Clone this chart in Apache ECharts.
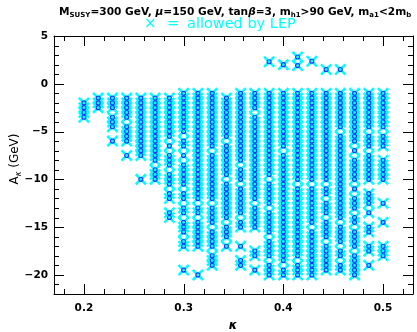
<!DOCTYPE html>
<html>
<head>
<meta charset="utf-8">
<script src="https://cdn.jsdelivr.net/npm/echarts@6/dist/echarts.min.js"></script>
<style>
html,body{margin:0;padding:0;background:#fff}
#main{width:417px;height:332px}
</style>
</head>
<body>
<div id="main"></div>
<script>
// kappa scan columns (0.2 .. 0.5, 22 steps)
var kappa = [0.2, 0.2143, 0.2286, 0.2429, 0.2571, 0.2714, 0.2857, 0.3, 0.3143, 0.3286, 0.3429,
  0.3571, 0.3714, 0.3857, 0.4, 0.4143, 0.4286, 0.4429, 0.4571, 0.4714, 0.4857, 0.5];

// A_kappa values (GeV) of the allowed points, one list per kappa column
var aKappa = [
  [-2,-2.5,-3,-3.5],
  [-1.5,-2,-2.5],
  [-1.5,-2,-2.5,-3.5,-4,-4.5,-6],
  [-1.5,-2,-2.5,-3,-3.5,-4.5,-5,-5.5,-6,-7.5],
  [-1.5,-2,-2.5,-3,-3.5,-4,-4.5,-5,-5.5,-6,-6.5,-7,-7.5,-10],
  [-1.5,-2,-2.5,-3,-3.5,-4,-4.5,-5,-5.5,-6,-6.5,-7,-7.5,-8,-9,-9.5,-10],
  [-1.5,-2,-2.5,-3,-3.5,-4,-4.5,-5,-5.5,-6.5,-7.5,-8,-8.5,-9.5,-10,-10.5,-11.5,-12,-13.5,-14],
  [-1,-1.5,-2,-2.5,-3,-3.5,-4,-4.5,-5,-6,-6.5,-7.5,-8.5,-9,-9.5,-10,-10.5,-11.5,-12,-13,-13.5,-14.5,-15,-15.5,-16.5,-17,-19.5],
  [-1,-1.5,-2,-2.5,-3,-3.5,-4,-4.5,-5,-5.5,-6,-6.5,-7,-7.5,-8,-8.5,-9,-9.5,-10,-10.5,-11,-11.5,-12,-13,-13.5,-14.5,-15,-15.5,-16,-16.5,-17,-20],
  [-1,-1.5,-2,-2.5,-3,-3.5,-4,-4.5,-5,-5.5,-6,-6.5,-7.5,-8,-8.5,-9,-9.5,-10,-10.5,-11,-11.5,-12,-13,-13.5,-14,-14.5,-15.5,-16,-16.5,-17,-18,-18.5,-19],
  [-1.5,-2,-2.5,-3,-3.5,-4,-4.5,-5,-5.5,-6.5,-7,-7.5,-8,-8.5,-9,-9.5,-10.5,-11,-11.5,-12,-12.5,-13,-13.5,-14,-15,-15.5,-16,-17],
  [-1,-1.5,-2,-2.5,-3,-3.5,-4,-4.5,-5,-5.5,-6,-6.5,-7,-7.5,-8,-9,-9.5,-10,-11,-11.5,-12,-12.5,-13,-13.5,-14.5,-15,-17,-18.5,-19],
  [-1,-1.5,-2,-2.5,-3.5,-4,-4.5,-5,-5.5,-6,-6.5,-7,-7.5,-8,-8.5,-9,-9.5,-10,-10.5,-11,-11.5,-12,-13,-13.5,-14,-14.5,-15,-17.5,-18,-19.5],
  [2.3,-1,-1.5,-2,-2.5,-3,-3.5,-4,-4.5,-5,-5.5,-6,-6.5,-7,-7.5,-8,-8.5,-9,-9.5,-10.5,-11,-11.5,-12,-12.5,-13.5,-14,-14.5,-15,-15.5,-16.5,-17,-17.5,-18,-19,-19.5,-20],
  [2,-1,-1.5,-2,-2.5,-3,-3.5,-4,-4.5,-5,-5.5,-6,-6.5,-7.5,-8,-8.5,-9,-9.5,-10,-10.5,-11,-11.5,-12,-12.5,-13,-13.5,-14,-14.5,-15,-15.5,-16,-16.5,-17,-17.5,-18,-18.5,-19.5,-20],
  [2.8,1.9,-1,-1.5,-2,-2.5,-3,-3.5,-4,-4.5,-5,-5.5,-6,-6.5,-7,-7.5,-8,-8.5,-9,-9.5,-10,-11,-11.5,-12,-12.5,-13,-13.5,-14,-14.5,-15,-15.5,-16,-16.5,-17,-17.5,-18,-19,-19.5,-20],
  [2.35,-1,-1.5,-2,-2.5,-3,-3.5,-4,-4.5,-5,-5.5,-6,-6.5,-7,-7.5,-8,-8.5,-9,-9.5,-10,-11,-11.5,-12,-12.5,-13,-13.5,-14,-14.5,-15.5,-16,-16.5,-17,-17.5,-18,-18.5,-19,-19.5,-20],
  [1.5,-1,-1.5,-2,-2.5,-3,-3.5,-4,-4.5,-5,-5.5,-6,-6.5,-7,-7.5,-8,-8.5,-9,-9.5,-10,-11,-11.5,-12.5,-13,-13.5,-14.5,-15,-15.5,-16,-17,-17.5,-18,-18.5,-19,-19.5],
  [1.5,-1,-1.5,-2,-2.5,-3,-3.5,-4,-4.5,-5.5,-6,-6.5,-7,-7.5,-8,-8.5,-9,-9.5,-10,-10.5,-11,-11.5,-12,-12.5,-13,-13.5,-14,-15,-15.5,-16,-16.5,-17.5,-18,-19,-19.5],
  [-1,-1.5,-2,-2.5,-3,-3.5,-4,-4.5,-5,-5.5,-6,-7,-8,-8.5,-9,-9.5,-10,-11,-12,-12.5,-13,-14,-14.5,-15.5,-16,-16.5,-17,-18,-18.5,-19,-19.5,-20],
  [-1,-1.5,-2,-2.5,-3,-3.5,-4,-4.5,-5.5,-6,-6.5,-7.5,-8,-8.5,-9,-9.5,-10,-11.5,-12,-12.5,-13.5,-15,-15.5,-17,-17.5,-19],
  [-1,-1.5,-2,-2.5,-3,-3.5,-4,-4.5,-5.5,-6,-6.5,-8,-8.5,-9,-9.5,-10,-12.5,-14.5,-17,-17.5,-18]
];

var xRange = [0.17, 0.53];
var yRange = [-22, 5];

// tick positions (major ones carry the labels)
var xMajorTicks = [0.2, 0.3, 0.4, 0.5];
var xMinorTicks = [0.18, 0.22, 0.24, 0.26, 0.28, 0.32, 0.34, 0.36, 0.38, 0.42, 0.44, 0.46, 0.48, 0.52];
var yMajorTicks = [-20, -15, -10, -5, 0, 5];
var yMinorTicks = [-21, -19, -18, -17, -16, -14, -13, -12, -11, -9, -8, -7, -6, -4, -3, -2, -1, 1, 2, 3, 4];

var points = [];
kappa.forEach(function (k, i) {
  aKappa[i].forEach(function (a) { points.push([k, a]); });
});

var chart = echarts.init(document.getElementById('main'));

function axis(dim, pos, labels) {
  var range = dim === 'x' ? xRange : yRange;
  var o = {
    type: 'value', position: pos,
    min: range[0], max: range[1],
    splitNumber: dim === 'x' ? 4 : 5,
    splitLine: { show: false },
    axisLine: { show: true, onZero: false, lineStyle: { color: '#000', width: 1 } },
    axisTick: { show: false },
    axisLabel: { show: false }
  };
  if (labels) {
    o.axisLabel = {
      show: true, margin: dim === 'x' ? 9 : 6, showMinLabel: false, showMaxLabel: dim !== 'x',
      color: '#000', fontFamily: 'DejaVu Sans', fontWeight: 'bold', fontSize: 10.5,
      formatter: function (v) { return String(v).replace('-', '\u2212'); }
    };
  }
  return o;
}

// inward ticks on all four sides, placed through the axis scales
var xTickData = xMajorTicks.map(function (v) { return [v, yRange[0], 10]; })
  .concat(xMinorTicks.map(function (v) { return [v, yRange[0], 5]; }));
var yTickData = yMajorTicks.map(function (v) { return [xRange[0], v, 10]; })
  .concat(yMinorTicks.map(function (v) { return [xRange[0], v, 5]; }));

function tickLine(x1, y1, x2, y2) {
  return { type: 'line', shape: { x1: x1, y1: y1, x2: x2, y2: y2 }, style: { stroke: '#000', lineWidth: 1 } };
}
function renderXTick(params, api) {
  var v = api.value(0), len = api.value(2);
  var b = api.coord([v, yRange[0]]), t = api.coord([v, yRange[1]]);
  var x = Math.round(b[0]) + 0.5;
  return { type: 'group', children: [tickLine(x, b[1], x, b[1] - len), tickLine(x, t[1], x, t[1] + len)] };
}
function renderYTick(params, api) {
  var v = api.value(1), len = api.value(2);
  var l = api.coord([xRange[0], v]), r = api.coord([xRange[1], v]);
  var y = Math.round(l[1]) + 0.5;
  return { type: 'group', children: [tickLine(l[0], y, l[0] + len, y), tickLine(r[0], y, r[0] - len, y)] };
}

var xSym = 'path://M0,1.5L1.5,0L5,3.5L8.5,0L10,1.5L6.5,5L10,8.5L8.5,10L5,6.5L1.5,10L0,8.5L3.5,5Z';

var option = {
  animation: false,
  backgroundColor: '#fff',
  title: [{
    left: 54, top: 1,
    text: '{b|M}{s|SUSY}{b|=300 GeV, }{i|μ}{b|=150 GeV, tan}{i|β}{b|=3, m}{s|h1}{b|>90 GeV, m}{s|a1}{b|<2m}{s|b}',
    textStyle: {
      rich: {
        b: { fontFamily: 'DejaVu Sans', fontWeight: 'bold', fontSize: 10.6, color: '#000', lineHeight: 13 },
        i: { fontFamily: 'DejaVu Sans', fontWeight: 'bold', fontStyle: 'italic', fontSize: 10.6, color: '#000', lineHeight: 13 },
        s: { fontFamily: 'DejaVu Sans', fontWeight: 'bold', fontSize: 7, color: '#000', lineHeight: 13, verticalAlign: 'bottom' }
      }
    }
  }],
  graphic: [
    { type: 'text', left: 144, top: 17, style: { text: '×', fill: '#00ffff', font: '15px "DejaVu Sans"' } },
    { type: 'text', left: 167, top: 17, style: { text: '=', fill: '#00ffff', font: '15px "DejaVu Sans"' } },
    { type: 'text', left: 187, top: 17, style: { text: 'allowed by LEP', fill: '#00ffff', font: '14.5px "DejaVu Sans"' } },
    // axis titles
    { type: 'text', x: 233, y: 326, style: { text: 'κ', fill: '#000', font: 'italic bold 12px "DejaVu Sans"', align: 'center', verticalAlign: 'middle' } },
    {
      type: 'text', x: 15, y: 159, rotation: Math.PI / 2,
      style: {
        text: '{a|A}{s|κ}{a| (GeV)}', align: 'center', verticalAlign: 'middle',
        rich: {
          a: { fontFamily: 'DejaVu Sans', fontSize: 12, fill: '#000', lineHeight: 16 },
          s: { fontFamily: 'DejaVu Sans', fontSize: 8, fontStyle: 'italic', fill: '#000', lineHeight: 16, verticalAlign: 'bottom' }
        }
      }
    }
  ],
  grid: { left: 54, right: 4, top: 36, bottom: 38 },
  xAxis: [axis('x', 'bottom', true), axis('x', 'top', false)],
  yAxis: [axis('y', 'left', true), axis('y', 'right', false)],
  series: [
    {
      type: 'scatter', xAxisIndex: 0, yAxisIndex: 0, silent: true,
      symbol: xSym, symbolSize: 12,
      itemStyle: { color: '#00ffff', opacity: 1 },
      data: points
    },
    {
      type: 'scatter', xAxisIndex: 0, yAxisIndex: 0, silent: true,
      symbol: 'circle', symbolSize: 4,
      itemStyle: { color: 'rgba(0,0,0,0)', borderColor: '#2233ff', borderWidth: 1.1, opacity: 1 },
      data: points
    },
    {
      type: 'custom', xAxisIndex: 0, yAxisIndex: 0, silent: true, clip: false, z: 5,
      encode: { x: 0, y: 1 }, renderItem: renderXTick, data: xTickData
    },
    {
      type: 'custom', xAxisIndex: 0, yAxisIndex: 0, silent: true, clip: false, z: 5,
      encode: { x: 0, y: 1 }, renderItem: renderYTick, data: yTickData
    }
  ]
};
chart.setOption(option);
</script>
</body>
</html>
